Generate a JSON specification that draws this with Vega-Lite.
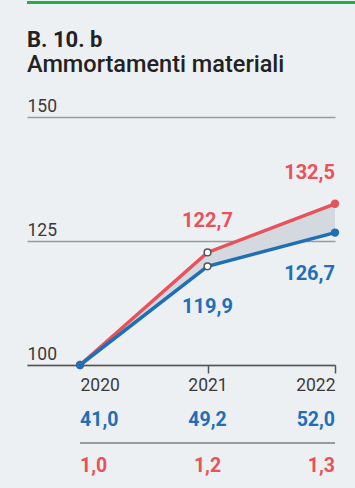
{
  "$schema": "https://vega.github.io/schema/vega-lite/v6.json",
  "background": "#edf0f3",
  "padding": {"top": 1, "left": 0, "right": 0, "bottom": 0},
  "config": {
    "font": "Roboto",
    "locale": {"number": {"decimal": ",", "thousands": ".", "grouping": [3], "currency": ["", " €"]}},
    "view": {"stroke": null}
  },
  "datasets": {
    "d": [
      {"anno": 2020, "serie": "B", "indice": 100, "valore": 1.0},
      {"anno": 2021, "serie": "B", "indice": 122.7, "valore": 1.2},
      {"anno": 2022, "serie": "B", "indice": 132.5, "valore": 1.3},
      {"anno": 2020, "serie": "A", "indice": 100, "valore": 41.0},
      {"anno": 2021, "serie": "A", "indice": 119.9, "valore": 49.2},
      {"anno": 2022, "serie": "A", "indice": 126.7, "valore": 52.0}
    ]
  },
  "columns": 1,
  "align": "none",
  "spacing": 24,
  "concat": [
    {
      "width": 355,
      "height": 3,
      "view": {"fill": "#22ad4a", "stroke": null},
      "data": {"values": []},
      "mark": "point",
      "encoding": {}
    },
    {
      "spacing": 3,
      "vconcat": [
        {
          "width": 308,
          "height": 248,
          "title": {
            "text": "B. 10. b",
            "subtitle": "Ammortamenti materiali",
            "anchor": "start",
            "frame": "group",
            "font": "Roboto",
            "fontSize": 22,
            "fontWeight": "bold",
            "color": "#222222",
            "subtitleFont": "Roboto",
            "subtitleFontSize": 23.5,
            "subtitleFontWeight": 500,
            "subtitleColor": "#222222",
            "subtitlePadding": 1,
            "offset": 20
          },
          "data": {"name": "d"},
          "encoding": {
            "x": {
              "field": "anno",
              "type": "quantitative",
              "scale": {"domain": [2019.584, 2022], "nice": false, "zero": false},
              "axis": {
                "values": [2020, 2021, 2022],
                "title": null,
                "format": "d",
                "grid": false,
                "domain": true,
                "domainColor": "#555555",
                "domainWidth": 1.5,
                "ticks": true,
                "tickColor": "#555555",
                "tickWidth": 1.5,
                "tickSize": 8,
                "tickOpacity": {"condition": {"test": "datum.value == 2020", "value": 0}, "value": 1},
                "labelAlign": {"condition": [{"test": "datum.value == 2020", "value": "left"}, {"test": "datum.value == 2022", "value": "right"}], "value": "center"},
                "labelBaseline": "alphabetic",
                "labelPadding": 17,
                "labelFontSize": 17.5,
                "labelColor": "#3a3a3a",
                "labelFlush": false
              }
            }
          },
          "layer": [
            {
              "transform": [{"pivot": "serie", "value": "indice", "groupby": ["anno"]}],
              "mark": {"type": "area", "color": "#d4d9df"},
              "encoding": {
                "y": {
                  "field": "A",
                  "type": "quantitative",
                  "scale": {"domain": [100, 150], "nice": false, "zero": false},
                  "axis": {
                    "values": [100, 125, 150],
                    "format": "d",
                    "title": null,
                    "domain": false,
                    "grid": true,
                    "gridColor": "#9a9a9a",
                    "gridWidth": 1.5,
                    "ticks": true,
                    "tickSize": 27,
                    "tickOpacity": 0,
                    "labelPadding": -27,
                    "labelAlign": "left",
                    "labelBaseline": "alphabetic",
                    "labelOffset": -6,
                    "labelFontSize": 17.5,
                    "labelColor": "#3a3a3a"
                  }
                },
                "y2": {"field": "B"}
              }
            },
            {
              "mark": {"type": "line", "strokeWidth": 3.5},
              "encoding": {
                "y": {"field": "indice", "type": "quantitative"},
                "color": {"field": "serie", "type": "nominal", "scale": {"domain": ["B", "A"], "range": ["#e8525a", "#1f6fb7"]}, "legend": null}
              }
            },
            {
              "transform": [{"filter": "datum.anno != 2021"}],
              "mark": {"type": "circle", "size": 70, "opacity": 1},
              "encoding": {
                "y": {"field": "indice", "type": "quantitative"},
                "color": {"field": "serie", "type": "nominal", "legend": null}
              }
            },
            {
              "transform": [{"filter": "datum.anno == 2021"}],
              "mark": {"type": "point", "shape": "circle", "filled": true, "fill": "#ffffff", "stroke": "#555555", "strokeWidth": 1.5, "size": 45, "opacity": 1},
              "encoding": {
                "y": {"field": "indice", "type": "quantitative"}
              }
            },
            {
              "transform": [{"filter": "datum.serie == 'B' && datum.anno > 2020"}],
              "mark": {"type": "text", "fontSize": 20, "fontWeight": "bold", "color": "#e8525a", "baseline": "alphabetic", "dy": -25, "align": {"expr": "datum.anno == 2022 ? 'right' : 'center'"}},
              "encoding": {
                "y": {"field": "indice", "type": "quantitative"},
                "text": {"field": "indice", "type": "quantitative", "format": ".1f"}
              }
            },
            {
              "transform": [{"filter": "datum.serie == 'A' && datum.anno > 2020"}],
              "mark": {"type": "text", "fontSize": 20, "fontWeight": "bold", "color": "#1f6fb7", "baseline": "alphabetic", "dy": 47, "align": {"expr": "datum.anno == 2022 ? 'right' : 'center'"}},
              "encoding": {
                "y": {"field": "indice", "type": "quantitative"},
                "text": {"field": "indice", "type": "quantitative", "format": ".1f"}
              }
            }
          ]
        },
        {
          "width": 308,
          "height": 92,
          "data": {"name": "d"},
          "encoding": {
            "x": {"field": "anno", "type": "quantitative", "scale": {"domain": [2019.584, 2022], "nice": false, "zero": false}, "axis": null},
            "y": {
              "field": "serie",
              "type": "nominal",
              "scale": {"type": "band", "domain": ["A", "B"], "paddingInner": 0, "paddingOuter": 0},
              "axis": {"title": null, "labels": false, "domain": false, "grid": false, "ticks": true, "tickSize": 27, "tickOpacity": 0}
            }
          },
          "layer": [
            {
              "transform": [
                {"filter": "datum.serie == 'B'"},
                {"aggregate": [{"op": "min", "field": "anno", "as": "a0"}, {"op": "max", "field": "anno", "as": "a1"}], "groupby": ["serie"]}
              ],
              "mark": {"type": "rule", "color": "#9a9a9a", "strokeWidth": 2},
              "encoding": {
                "x": {"field": "a0", "type": "quantitative"},
                "x2": {"field": "a1"},
                "y": {"field": "serie", "type": "nominal", "bandPosition": 0}
              }
            },
            {
              "mark": {"type": "text", "fontSize": 19.5, "fontWeight": "bold", "baseline": "middle", "align": {"expr": "datum.anno == 2020 ? 'left' : datum.anno == 2022 ? 'right' : 'center'"}},
              "encoding": {
                "text": {"field": "valore", "type": "quantitative", "format": ".1f"},
                "color": {"field": "serie", "type": "nominal", "scale": {"domain": ["B", "A"], "range": ["#e8525a", "#1f6fb7"]}, "legend": null}
              }
            }
          ]
        }
      ]
    }
  ]
}
